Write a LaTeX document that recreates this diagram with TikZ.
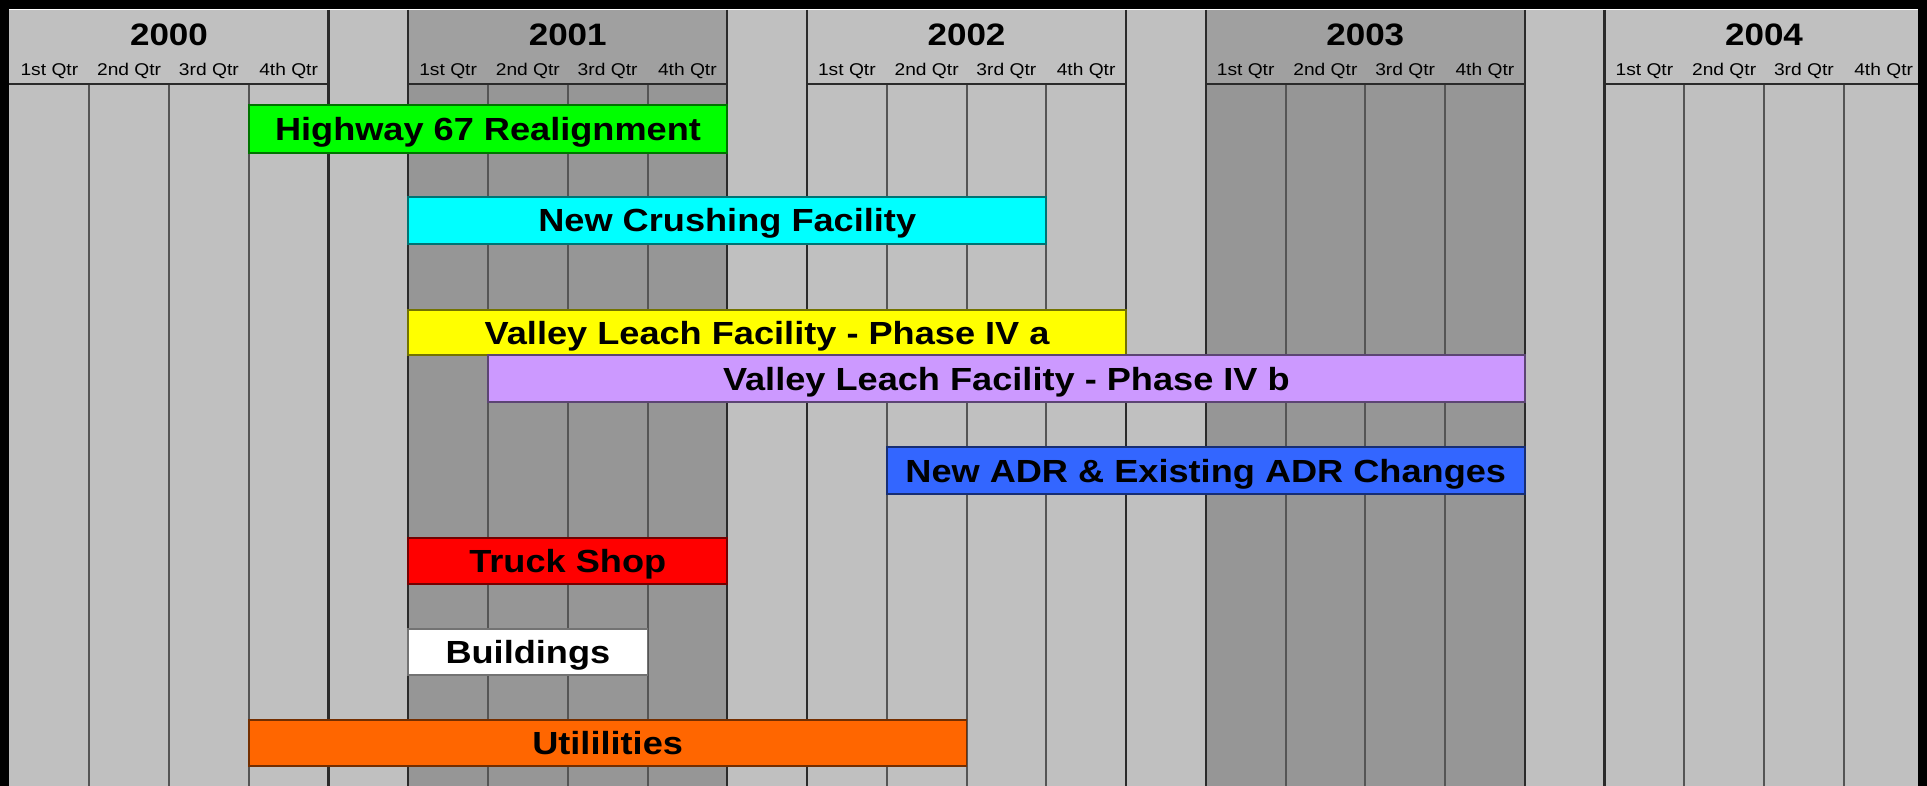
\documentclass[tikz,border=0pt]{standalone}
\usepackage{fontspec}
\setmainfont{Liberation Sans}[FakeStretch=1.13]
\definecolor{lightcol}{HTML}{C0C0C0}
\definecolor{darkbody}{HTML}{969696}
\definecolor{darkhead}{HTML}{A0A0A0}
\definecolor{edgeline}{HTML}{2A2A2A}
\definecolor{qline}{HTML}{555555}
\definecolor{cgreen}{HTML}{00FF00}
\definecolor{ccyan}{HTML}{00FFFF}
\definecolor{cyellow}{HTML}{FFFF00}
\definecolor{cpurple}{HTML}{CC99FF}
\definecolor{cblue}{HTML}{3366FF}
\definecolor{cred}{HTML}{FF0000}
\definecolor{cwhite}{HTML}{FFFFFF}
\definecolor{corange}{HTML}{FF6600}
\tikzset{
  barbox/.style={rectangle, inner sep=0pt, line width=1.6pt,
    font=\fontsize{32}{36}\selectfont\bfseries, text height=23pt, text depth=0pt},
  yearlab/.style={inner sep=0pt, font=\fontsize{31}{34}\selectfont\bfseries},
  qtrlab/.style={inner sep=0pt, font=\fontsize{17}{19}\selectfont},
  yearedge/.style={draw=edgeline, line width=2.2pt},
  qtredge/.style={draw=qline, line width=2pt},
  headline/.style={draw=edgeline, line width=2pt},
}
\newcommand\gbar[7]{%
  \node (#1) [barbox, fill=#2, draw=#2!45!black,
    minimum width={(#4-#3)*79.75}, minimum height={#6-#5}]
    at ({9.5+79.75*(#3+#4)/2}, {(#5+#6)/2}) {#7};}
\newcommand\qlabels[2]{% first column index, name prefix
  \node (#2q1) [qtrlab] at ({9.5+79.75*(#1+0.5)}, 71) {1st Qtr};
  \node (#2q2) [qtrlab] at ({9.5+79.75*(#1+1.5)}, 71) {2nd Qtr};
  \node (#2q3) [qtrlab] at ({9.5+79.75*(#1+2.5)}, 71) {3rd Qtr};
  \node (#2q4) [qtrlab] at ({9.5+79.75*(#1+3.5)}, 71) {4th Qtr};}
\begin{document}
\begin{tikzpicture}[x=1pt, y=-1pt, declare function={cx(\k)=9.5+79.75*\k;}]
\useasboundingbox (0,0) rectangle (1927,786);
% frame
\fill[black] (0,0) rectangle (1927,786);
\fill[lightcol] (9,9) rectangle (1918,786);
% dark years 2001 and 2003
\fill[darkhead] ({cx(5)},9) rectangle ({cx(9)},84);
\fill[darkbody] ({cx(5)},84) rectangle ({cx(9)},786);
\fill[darkhead] ({cx(15)},9) rectangle ({cx(19)},84);
\fill[darkbody] ({cx(15)},84) rectangle ({cx(19)},786);
\draw[white, line width=1.2pt] (9,9.6) -- (1918,9.6);
% quarter lines
\foreach \k in {1,2,3,6,7,8,11,12,13,16,17,18,21,22,23}
  \draw[qtredge] ({cx(\k)},84) -- ({cx(\k)},786);
% year edges
\foreach \k in {4,5,9,10,14,15,19,20}
  \draw[yearedge] ({cx(\k)},10) -- ({cx(\k)},786);
% header lines
\draw[headline] (9,84) -- ({cx(4)},84);
\draw[headline] ({cx(5)},84) -- ({cx(9)},84);
\draw[headline] ({cx(10)},84) -- ({cx(14)},84);
\draw[headline] ({cx(15)},84) -- ({cx(19)},84);
\draw[headline] ({cx(20)},84) -- (1918,84);
% year labels
\node (y2000) [yearlab] at ({cx(2)}, 35) {2000};
\node (y2001) [yearlab] at ({cx(7)}, 35) {2001};
\node (y2002) [yearlab] at ({cx(12)}, 35) {2002};
\node (y2003) [yearlab] at ({cx(17)}, 35) {2003};
\node (y2004) [yearlab] at ({cx(22)}, 35) {2004};
\qlabels{0}{a}
\qlabels{5}{b}
\qlabels{10}{c}
\qlabels{15}{d}
\qlabels{20}{e}
% bars
\gbar{hwy}{cgreen}{3}{9}{105}{153}{Highway 67 Realignment}
\gbar{crush}{ccyan}{5}{13}{197}{244}{New Crushing Facility}
\gbar{vlfa}{cyellow}{5}{14}{310}{355}{Valley Leach Facility - Phase IV a}
\gbar{vlfb}{cpurple}{6}{19}{355}{402}{Valley Leach Facility - Phase IV b}
\gbar{adr}{cblue}{11}{19}{447}{494}{New ADR \& Existing ADR Changes}
\gbar{truck}{cred}{5}{9}{538}{584}{Truck Shop}
\gbar{bldg}{cwhite}{5}{8}{629}{675}{Buildings}
\gbar{util}{corange}{3}{12}{720}{766}{Utililities}
\end{tikzpicture}
\end{document}
